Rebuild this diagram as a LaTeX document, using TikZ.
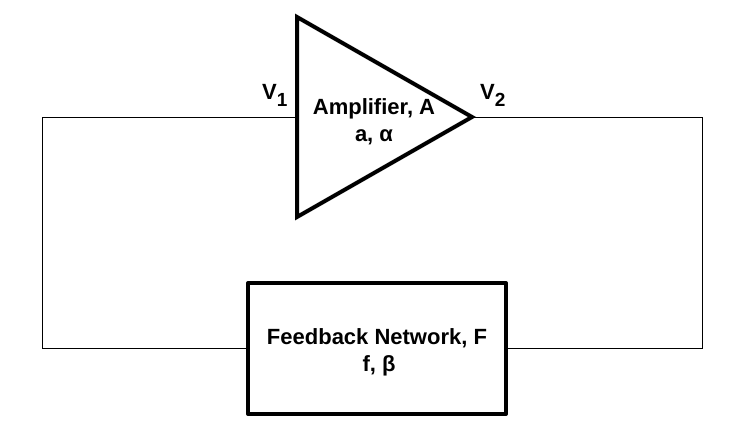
\documentclass[tikz,border=0pt]{standalone}
\usepackage{fontspec}
\setmainfont{Liberation Sans}
\usepackage{tikz}
\usetikzlibrary{positioning}

\begin{document}
\begin{tikzpicture}[x=1pt,y=-1pt,wire/.style={line width=0.9pt},
    block/.style={draw,line width=4pt,line join=round,inner sep=0pt},
    lbl/.style={anchor=base,inner sep=0pt,font=\fontsize{22}{26}\selectfont\bfseries}]
    \useasboundingbox (0,0) rectangle (745,435);

    % amplifier triangle
    \coordinate (in)  at (297,117);
    \coordinate (out) at (472,117);
    \draw[line width=4pt,line join=miter] (297,17) -- (out) -- (297,217) -- cycle;
    \node[lbl] (amp)  at (374,115) {Amplifier, A};
    \node[lbl] (ampp) at (374,142) {a, α};

    % feedback box
    \node[block,minimum width=258pt,minimum height=131pt] (F) at (377,348.5) {};
    \node[lbl] (fb)  at (377,345) {Feedback Network, F};
    \node[lbl] (fbp) at (379,372) {f, β};

    % voltages
    \node[lbl,anchor=base west] (V1) at (262,100) {V\raisebox{-7pt}{\fontsize{19}{19}\selectfont 1}};
    \node[lbl,anchor=base west] (V2) at (480,100) {V\raisebox{-7pt}{\fontsize{19}{19}\selectfont 2}};

    % loop wires
    \coordinate (cl) at (42,117);
    \coordinate (cr) at (702,117);
    \draw[wire] (in) -- (cl) |- (F.west);
    \draw[wire] (out) -- (cr) |- (F.east);
\end{tikzpicture}
\end{document}
